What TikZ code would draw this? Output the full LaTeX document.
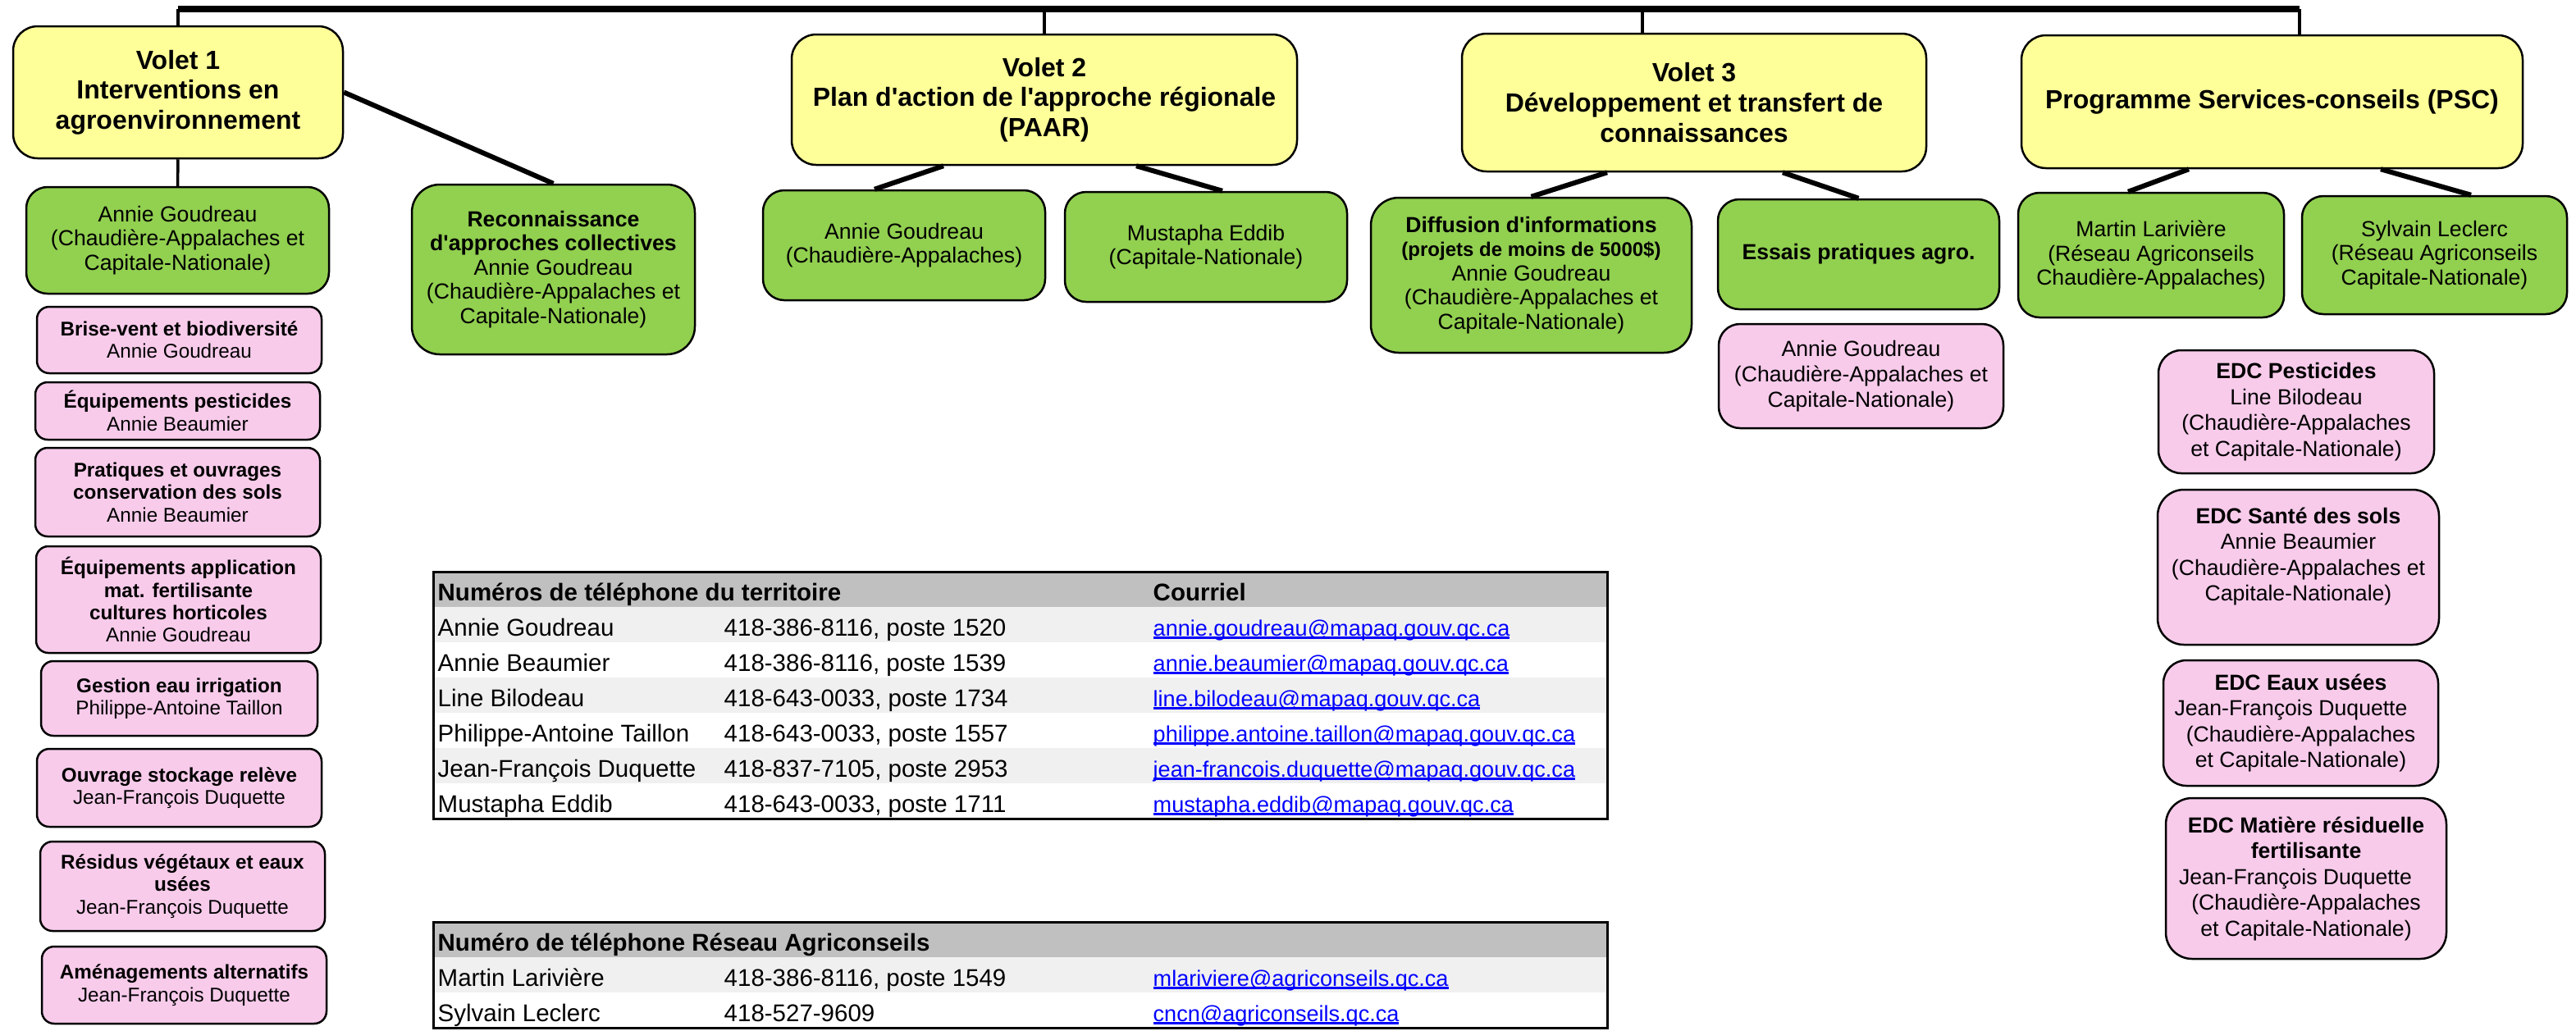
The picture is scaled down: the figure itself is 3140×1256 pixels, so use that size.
\documentclass[tikz,border=0pt]{standalone}
\usepackage{fontspec}
\setmainfont{Liberation Sans}[Ligatures=TeXOff]
\usepackage{tikz}
\usepackage{xcolor}

\definecolor{jaune}{HTML}{FFFF99}
\definecolor{vert}{HTML}{92D050}
\definecolor{rose}{HTML}{F8CBEB}
\definecolor{grisentete}{HTML}{C0C0C0}
\definecolor{grisligne}{HTML}{F0F0F0}
\definecolor{bleulien}{HTML}{0000FF}

\newcommand{\courriel}[1]{\textcolor{bleulien}{\fontsize{7.7}{10}\selectfont\setbox0=\hbox{#1}\rlap{\rule[-0.35mm]{\wd0}{0.25mm}}\box0}}

\tikzset{
    taille/.style 2 args={minimum width=#1mm, minimum height=#2mm},
    boite/.style={draw, line width=0.25mm, inner sep=0pt, align=center},
    volet/.style={boite, fill=jaune, rounded corners=3mm, font=\fontsize{9.1}{10.44}\selectfont\bfseries},
    equipe/.style={boite, fill=vert, rounded corners=2.6mm, font=\fontsize{7.57}{8.4}\selectfont},
    edc/.style={boite, fill=rose, rounded corners=2.8mm, font=\fontsize{7.57}{8.96}\selectfont},
    mesure/.style={boite, fill=rose, rounded corners=1.5mm, font=\fontsize{6.9}{7.77}\selectfont},
    lien/.style={line width=0.6mm},
    tige/.style={line width=0.35mm},
    barre/.style={line width=0.8mm},
    cellule/.style={anchor=base west, inner sep=0pt, font=\fontsize{8.39}{10}\selectfont},
    entete/.style={cellule, font=\fontsize{8.39}{10}\selectfont\bfseries},
}

\begin{document}
\begin{tikzpicture}[x=0.1mm, y=-0.1mm]
    \useasboundingbox (0,0) rectangle (3140,1256);

    \node[volet, taille={40.2}{16.1}] (v1) at (217,112.5) {Volet 1\\Interventions en\\agroenvironnement};
    \node[volet, taille={61.6}{15.9}] (v2) at (1273,121.5) {Volet 2\\Plan d'action de l'approche régionale\\(PAAR)};
    \node[volet, taille={56.6}{16.8}] (v3) at (2065,125) {Volet 3\\Développement et transfert de\\connaissances};
    \node[volet, taille={61.1}{16.2}] (psc) at (2769.5,124) {Programme Services-conseils (PSC)};

    \coordinate (haut) at (0,11);
    \coordinate (v3tige) at ([xshift=-6.3mm]v3.north);
    \coordinate (psctige) at ([xshift=3.35mm]psc.north);
    \draw[barre] (v1.north |- haut) -- (psctige |- haut);
    \draw[tige] (v1.north) -- (v1.north |- haut);
    \draw[tige] (v2.north) -- (v2.north |- haut);
    \draw[tige] (v3tige) -- (v3tige |- haut);
    \draw[tige] (psctige) -- (psctige |- haut);

    \node[equipe, taille={36.9}{13}] (ag1) at (216.5,293) {Annie Goudreau\\(Chaudière-Appalaches et\\Capitale-Nationale)};
    \node[equipe, taille={34.5}{20.7}, rounded corners=3.4mm] (rec) at (674.5,328.5) {\textbf{Reconnaissance}\\\textbf{d'approches collectives}\\Annie Goudreau\\(Chaudière-Appalaches et\\Capitale-Nationale)};
    \node[equipe, taille={34.4}{13.4}] (ag2) at (1102,299) {Annie Goudreau\\(Chaudière-Appalaches)};
    \node[equipe, taille={34.4}{13.4}] (me) at (1470,301) {Mustapha Eddib\\(Capitale-Nationale)};
    \node[equipe, taille={39.1}{18.9}, rounded corners=3.4mm] (dif) at (1866.5,335.5) {\textbf{Diffusion d'informations}\\{\fontsize{6.83}{8.4}\selectfont\bfseries (projets de moins de 5000\$)}\\Annie Goudreau\\(Chaudière-Appalaches et\\Capitale-Nationale)};
    \node[equipe, taille={34.3}{13.4}] (ess) at (2265.5,310) {\textbf{Essais pratiques agro.}};
    \node[equipe, taille={32.4}{15.2}] (ml) at (2622,311) {Martin Larivière\\(Réseau Agriconseils\\Chaudière-Appalaches)};
    \node[equipe, taille={32.3}{14.4}] (sl) at (2967.5,311) {Sylvain Leclerc\\(Réseau Agriconseils\\Capitale-Nationale)};

    \draw[lien] (v1.east) -- (rec.north);
    \draw[tige] (v1.south) -- (ag1.north);
    \draw[lien] ([xshift=-12.3mm]v2.south) -- ([xshift=-3.6mm]ag2.north);
    \draw[lien] ([xshift=11.2mm]v2.south) -- ([xshift=2mm]me.north);
    \draw[lien] ([xshift=-10.6mm]v3.south) -- (dif.north);
    \draw[lien] ([xshift=10.8mm]v3.south) -- (ess.north);
    \draw[lien] ([xshift=-10.15mm]psc.south) -- ([xshift=-2.8mm]ml.north);
    \draw[lien] ([xshift=13.25mm]psc.south) -- ([xshift=4.45mm]sl.north);

    \node[edc, taille={34.7}{12.7}, rounded corners=2.6mm, font=\fontsize{7.57}{8.73}\selectfont] (ag3) at (2268.5,458.5) {Annie Goudreau\\(Chaudière-Appalaches et\\Capitale-Nationale)};

    \node[edc, taille={33.6}{15}] (pest) at (2799,502) {\textbf{EDC Pesticides}\\Line Bilodeau\\(Chaudière-Appalaches\\et Capitale-Nationale)};
    \node[edc, taille={34.3}{18.9}, rounded corners=3.2mm] (sante) at (2801.5,691.5) {\textbf{EDC Santé des sols}\\Annie Beaumier\\(Chaudière-Appalaches et\\Capitale-Nationale)\\\mbox{}};
    \node[edc, taille={33.5}{15.3}] (eaux) at (2804.5,881.5) {\textbf{EDC Eaux usées}\\Jean-François Duquette\hspace{2.4mm}\mbox{}\\(Chaudière-Appalaches\\et Capitale-Nationale)};
    \node[edc, taille={34.2}{19.6}, rounded corners=3.2mm] (mat) at (2811,1071) {\textbf{EDC Matière résiduelle}\\\textbf{fertilisante}\\Jean-François Duquette\hspace{2.6mm}\mbox{}\\(Chaudière-Appalaches\\et Capitale-Nationale)};

    \node[mesure, taille={34.7}{8.1}] (m1) at (218.5,414.5) {\textbf{Brise-vent et biodiversité}\\Annie Goudreau};
    \node[mesure, taille={34.7}{7}] (m2) at (216.5,501) {\textbf{Équipements pesticides}\\Annie Beaumier};
    \node[mesure, taille={34.7}{10.8}] (m3) at (216.5,600) {\textbf{Pratiques et ouvrages}\\\textbf{conservation des sols}\\Annie Beaumier};
    \node[mesure, taille={34.7}{13}] (m4) at (217.5,731) {\textbf{Équipements application}\\\textbf{mat. fertilisante}\\\textbf{cultures horticoles}\\Annie Goudreau};
    \node[mesure, taille={33.7}{9.1}] (m5) at (218.5,851.5) {\textbf{Gestion eau irrigation}\\Philippe-Antoine Taillon};
    \node[mesure, taille={34.7}{9.5}] (m6) at (218.5,960.5) {\textbf{Ouvrage stockage relève}\\Jean-François Duquette};
    \node[mesure, taille={34.7}{10.9}] (m7) at (222.5,1080.5) {\textbf{Résidus végétaux et eaux}\\\textbf{usées}\\Jean-François Duquette};
    \node[mesure, taille={34.7}{9.4}] (m8) at (224.5,1201) {\textbf{Aménagements alternatifs}\\Jean-François Duquette};

    \fill[grisentete] (528,697) rectangle (1959,740);
    \foreach \nom/\tel/\mail [count=\i] in {
        {Annie Goudreau/418-386-8116, poste 1520/annie.goudreau@mapaq.gouv.qc.ca},
        {Annie Beaumier/418-386-8116, poste 1539/annie.beaumier@mapaq.gouv.qc.ca},
        {Line Bilodeau/418-643-0033, poste 1734/line.bilodeau@mapaq.gouv.qc.ca},
        {Philippe-Antoine Taillon/418-643-0033, poste 1557/philippe.antoine.taillon@mapaq.gouv.qc.ca},
        {Jean-François Duquette/418-837-7105, poste 2953/jean-francois.duquette@mapaq.gouv.qc.ca},
        {Mustapha Eddib/418-643-0033, poste 1711/mustapha.eddib@mapaq.gouv.qc.ca}} {
        \ifodd\i \fill[grisligne] (528,697+43*\i) rectangle (1959,740+43*\i); \fi
        \node[cellule] (nom\i) at (533,732+43*\i) {\nom};
        \node[cellule] (tel\i) at (882,732+43*\i) {\tel};
        \node[cellule] (mail\i) at (1405,732+43*\i) {\courriel{\mail}};
    }
    \node[entete] (titre1) at (533,732) {Numéros de téléphone du territoire};
    \node[entete] (titrecourriel) at (1405,732) {Courriel};
    \draw[line width=0.3mm] (528,697) rectangle (1959,998);

    \fill[grisentete] (528,1124) rectangle (1959,1167);
    \foreach \nom/\tel/\mail [count=\i] in {
        {Martin Larivière/418-386-8116, poste 1549/mlariviere@agriconseils.qc.ca},
        {Sylvain Leclerc/418-527-9609/cncn@agriconseils.qc.ca}} {
        \ifodd\i \fill[grisligne] (528,1124+43*\i) rectangle (1959,1167+43*\i); \fi
        \node[cellule] (anom\i) at (533,1159+43*\i) {\nom};
        \node[cellule] (atel\i) at (882,1159+43*\i) {\tel};
        \node[cellule] (amail\i) at (1405,1159+43*\i) {\courriel{\mail}};
    }
    \node[entete] (titre2) at (533,1159) {Numéro de téléphone Réseau Agriconseils};
    \draw[line width=0.3mm] (528,1124) rectangle (1959,1253);
\end{tikzpicture}
\end{document}
